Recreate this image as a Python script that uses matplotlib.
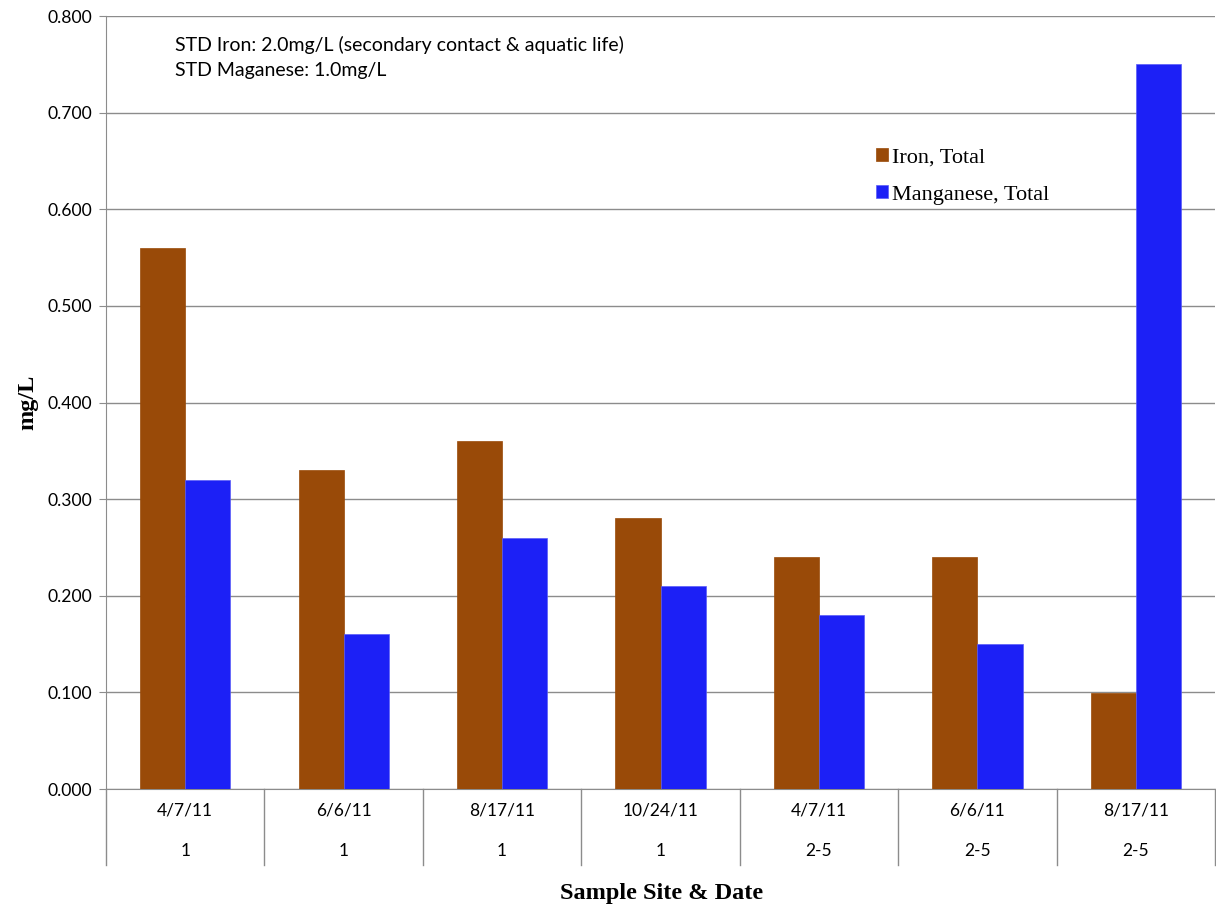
import matplotlib.pyplot as plt
from matplotlib.ticker import FormatStrFormatter
import numpy as np

# data
dates = ["4/7/11", "6/6/11", "8/17/11", "10/24/11", "4/7/11", "6/6/11", "8/17/11"]
sites = ["1", "1", "1", "1", "2-5", "2-5", "2-5"]
iron = [0.56, 0.33, 0.36, 0.28, 0.24, 0.24, 0.099]
manganese = [0.32, 0.16, 0.26, 0.21, 0.18, 0.15, 0.75]

iron_col = "#994a08"
mn_col = "#1c20f6"
grid_col = "#8c8c8c"
sans = ["Lato", "DejaVu Sans"]
serif = ["Liberation Serif", "DejaVu Serif"]

fig = plt.figure(figsize=(12.16, 9.15), dpi=100)
ax = fig.add_axes([0.0872, 0.1377, 0.9120, 0.8448])

x = np.arange(len(dates))
w = 0.285
ax.bar(x - w/2, iron, w, color=iron_col, edgecolor=iron_col, lw=0.5, label="Iron, Total", zorder=3)
ax.bar(x + w/2, manganese, w, color=mn_col, edgecolor="#5a5cf8", lw=0.5, label="Manganese, Total", zorder=3)

ax.set_xlim(-0.5, len(dates) - 0.5)
ax.set_ylim(0, 0.8)
ax.set_yticks(np.arange(0, 0.81, 0.1))
ax.yaxis.set_major_formatter(FormatStrFormatter("%.3f"))
ax.grid(axis="y", color=grid_col, lw=1, zorder=0)
for s in ["top", "right"]:
    ax.spines[s].set_visible(False)
ax.spines["left"].set_color(grid_col)
ax.spines["bottom"].set_color(grid_col)
ax.tick_params(axis="y", length=5, color=grid_col, labelsize=12.6, pad=5)
for t in ax.get_yticklabels():
    t.set_family(sans)
ax.set_xticks([])

# two-row category labels with separators
tr = ax.get_xaxis_transform()
low = -0.098
for b in np.arange(len(dates) + 1) - 0.5:
    ax.plot([b, b], [0, low], transform=tr, color=grid_col, lw=1, clip_on=False)
for i in x:
    ax.text(i, -0.028, dates[i], transform=tr, ha="center", va="center", fontsize=12.5, family=sans)
    ax.text(i, -0.080, sites[i], transform=tr, ha="center", va="center", fontsize=12.5, family=sans)

ax.set_ylabel("mg/L", family=serif, fontweight="bold", fontsize=17.5)
ax.yaxis.set_label_coords(-0.061, 0.5)
fig.text(0.544, 0.024, "Sample Site & Date", family=serif, fontweight="bold", fontsize=17.5,
         ha="center", va="center")

ax.text(0.062, 0.955, "STD Iron: 2.0mg/L (secondary contact & aquatic life)", transform=ax.transAxes,
        fontsize=14, family=sans, va="baseline")
ax.text(0.062, 0.9226, "STD Maganese: 1.0mg/L", transform=ax.transAxes,
        fontsize=14, family=sans, va="baseline")

leg = ax.legend(loc="upper left", bbox_to_anchor=(0.6845, 0.844), frameon=False,
                prop={"family": serif, "size": 16}, handlelength=0.55, handleheight=0.55,
                handletextpad=0.15, labelspacing=0.8, borderpad=0)

fig.savefig("out.png")
